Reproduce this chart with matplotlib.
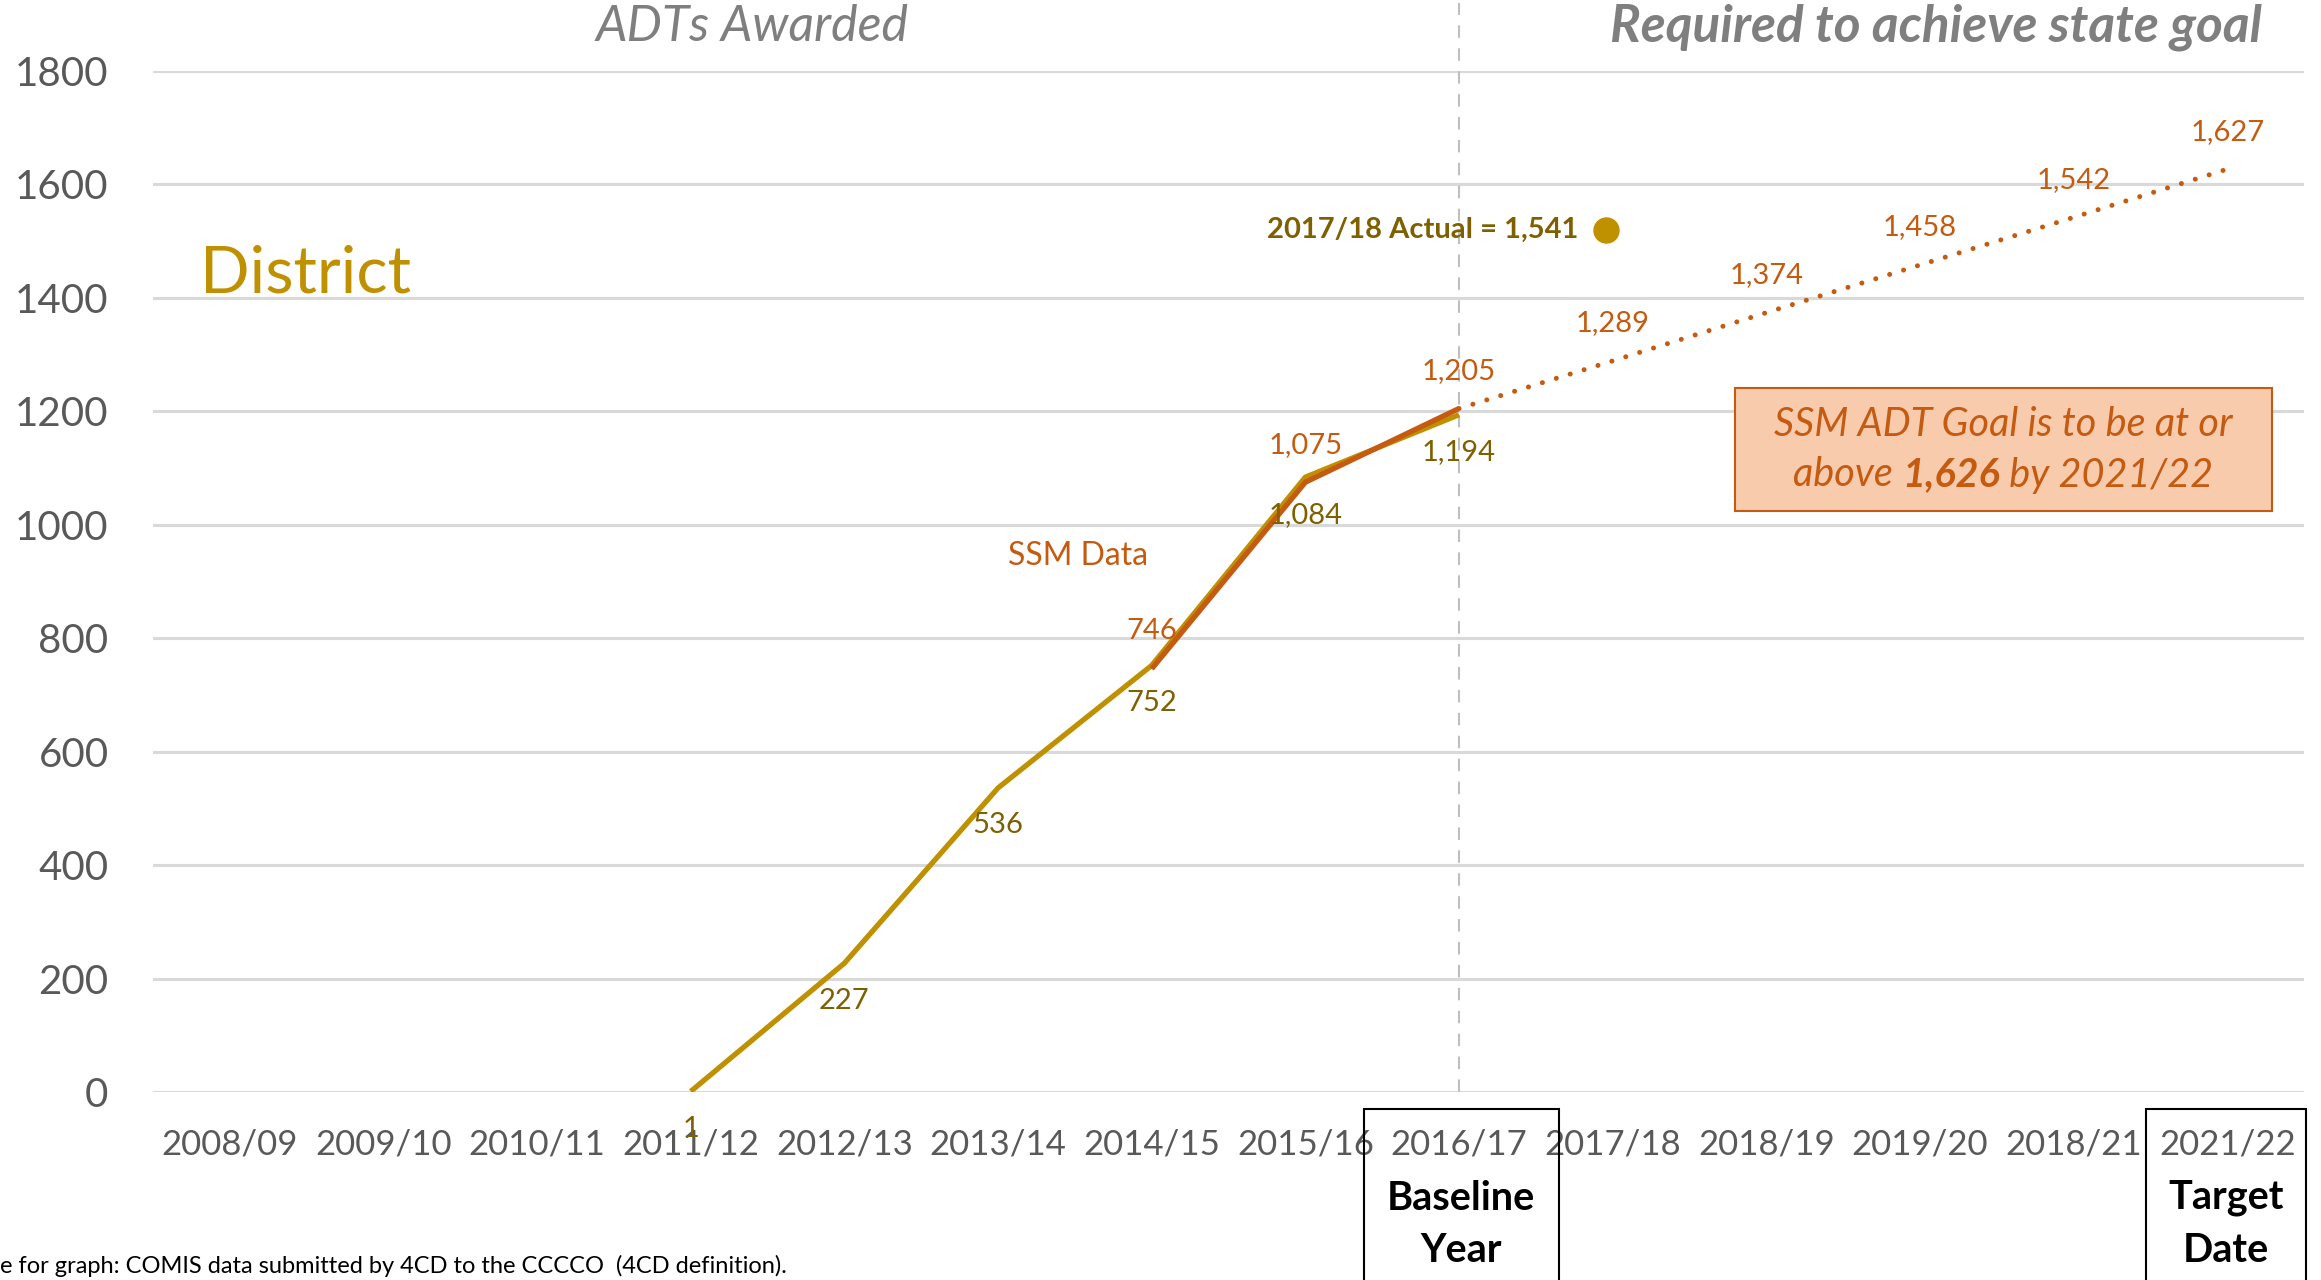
import matplotlib
matplotlib.use("Agg")
import matplotlib.pyplot as plt
from matplotlib.patches import Rectangle
from matplotlib.offsetbox import TextArea, HPacker, AnnotationBbox
import matplotlib.transforms as mtransforms

plt.rcParams['font.family'] = ['Lato', 'DejaVu Sans']

# ---- data ----
years = ['2008/09', '2009/10', '2010/11', '2011/12', '2012/13', '2013/14', '2014/15',
         '2015/16', '2016/17', '2017/18', '2018/19', '2019/20', '2018/21', '2021/22']
district_years = ['2011/12', '2012/13', '2013/14', '2014/15', '2015/16', '2016/17']
district_vals = [1, 227, 536, 752, 1084, 1194]
ssm_years = ['2014/15', '2015/16', '2016/17']
ssm_vals = [746, 1075, 1205]
goal_years = ['2016/17', '2017/18', '2018/19', '2019/20', '2018/21', '2021/22']
goal_vals = [1205, 1289, 1374, 1458, 1542, 1627]
actual_year = '2017/18'
actual_dot = 1520
actual_label = '2017/18 Actual = 1,541'
yticks = [0, 200, 400, 600, 800, 1000, 1200, 1400, 1600, 1800]

GOLD = '#BF9000'
DKGOLD = '#7F6000'
ORANGE = '#C55A11'
GRAY = '#7F7F7F'

idx = {y: i for i, y in enumerate(years)}
dx = [idx[y] for y in district_years]
sx = [idx[y] for y in ssm_years]
gx = [idx[y] for y in goal_years]

fig = plt.figure(figsize=(23.21, 12.8), dpi=100)
ax = fig.add_axes([0.0659, 0.1469, 0.9268, 0.7976])

ax.set_xlim(-0.5, len(years) - 0.5)
ax.set_ylim(0, 1800)
ax.set_yticks(yticks)
ax.set_xticks(range(len(years)))
ax.set_xticklabels(years)
ax.tick_params(axis='x', length=0, pad=26, labelsize=25, labelcolor='#595959')
ax.tick_params(axis='y', length=0, pad=32, labelsize=29, labelcolor='#595959')
for s in ax.spines.values():
    s.set_visible(False)
ax.grid(axis='y', color='#D9D9D9', lw=2.2, zorder=0)
ax.set_axisbelow(True)

# baseline divider
ax.plot([8, 8], [0, 1920], color='#BFBFBF', lw=1.5, ls=(0, (6, 5)), clip_on=False, zorder=1)

# lines
ax.plot(dx, district_vals, color=GOLD, lw=3.8, solid_capstyle='butt', zorder=3)
ax.plot(sx, ssm_vals, color=ORANGE, lw=3.8, solid_capstyle='butt', zorder=4)
ax.plot(gx, goal_vals, color=ORANGE, lw=3.6, ls=(0, (0.01, 2.9)),
        dash_capstyle='round', zorder=4)

# data labels
for x, v in zip(dx, district_vals):
    ax.annotate(f'{v:,}', (x, v), xytext=(0, -27), textcoords='offset points',
                ha='center', va='center', fontsize=21, color=DKGOLD, zorder=5)
for x, v in zip(sx, ssm_vals):
    ax.annotate(f'{v:,}', (x, v), xytext=(0, 27), textcoords='offset points',
                ha='center', va='center', fontsize=21, color=ORANGE, zorder=5)
for x, v in zip(gx[1:], goal_vals[1:]):
    ax.annotate(f'{v:,}', (x, v), xytext=(0, 27), textcoords='offset points',
                ha='center', va='center', fontsize=21, color=ORANGE, zorder=5)

# 2017/18 actual marker
ax.plot([idx[actual_year] - 0.04], [actual_dot], 'o', color=GOLD, ms=18, zorder=5)
ax.annotate(actual_label, (idx[actual_year] - 0.04, actual_dot), xytext=(-20, 0),
            textcoords='offset points', ha='right', va='center',
            fontsize=21, fontweight='bold', color=DKGOLD)

# titles and labels
fig.text(0.324, 0.979, 'ADTs Awarded', ha='center', va='center',
         fontsize=36, style='italic', color=GRAY)
fig.text(0.9746, 0.979, 'Required to achieve state goal', ha='right', va='center',
         fontsize=37, style='italic', fontweight='bold', color=GRAY)
fig.text(0.086, 0.786, 'District', ha='left', va='center', fontsize=47, color=GOLD)
fig.text(0.4645, 0.566, 'SSM Data', ha='center', va='center', fontsize=23, color=ORANGE)

# goal box
W, H = 2321, 1280
fig.patches.append(Rectangle((1735 / W, 1 - 511 / H), (2272 - 1735) / W, (511 - 388) / H,
                             transform=fig.transFigure, facecolor='#F8CBAD',
                             edgecolor=ORANGE, lw=1.5, zorder=2))
fig.text(2003 / W, 1 - 425 / H, 'SSM ADT Goal is to be at or', ha='center', va='center',
         fontsize=28.5, style='italic', color=ORANGE, zorder=3)
parts = [TextArea('above ', textprops=dict(fontsize=28.5, style='italic', color=ORANGE)),
         TextArea('1,626', textprops=dict(fontsize=28.5, style='italic', fontweight='bold', color=ORANGE)),
         TextArea(' by 2021/22', textprops=dict(fontsize=28.5, style='italic', color=ORANGE))]
line2 = HPacker(children=parts, align='baseline', pad=0, sep=0)
ab = AnnotationBbox(line2, (2003 / W, 1 - 475 / H), xycoords='figure fraction',
                    frameon=False, box_alignment=(0.5, 0.5), zorder=3)
fig.add_artist(ab)

# baseline / target boxes below the axis
trans = mtransforms.blended_transform_factory(ax.transData, fig.transFigure)
box_top = 1 - 1109 / H
for xc, half, l1, l2 in [(8.015, 0.635, 'Baseline', 'Year'), (12.99, 0.52, 'Target', 'Date')]:
    fig.patches.append(Rectangle((xc - half, -0.02), 2 * half, box_top + 0.02,
                                 transform=trans, facecolor='none', edgecolor='black',
                                 lw=1.5, zorder=5))
    fig.text(xc, 1 - 1198 / H, l1, transform=trans, ha='center', va='center',
             fontsize=28.5, fontweight='bold', color='black')
    fig.text(xc, 1 - 1250 / H, l2, transform=trans, ha='center', va='center',
             fontsize=28.5, fontweight='bold', color='black')

fig.text(0.0, 1 - 1266 / H, 'e for graph: COMIS data submitted by 4CD to the CCCCO  (4CD definition).',
         ha='left', va='center', fontsize=17, color='black')

fig.savefig('out.png', dpi=100)
